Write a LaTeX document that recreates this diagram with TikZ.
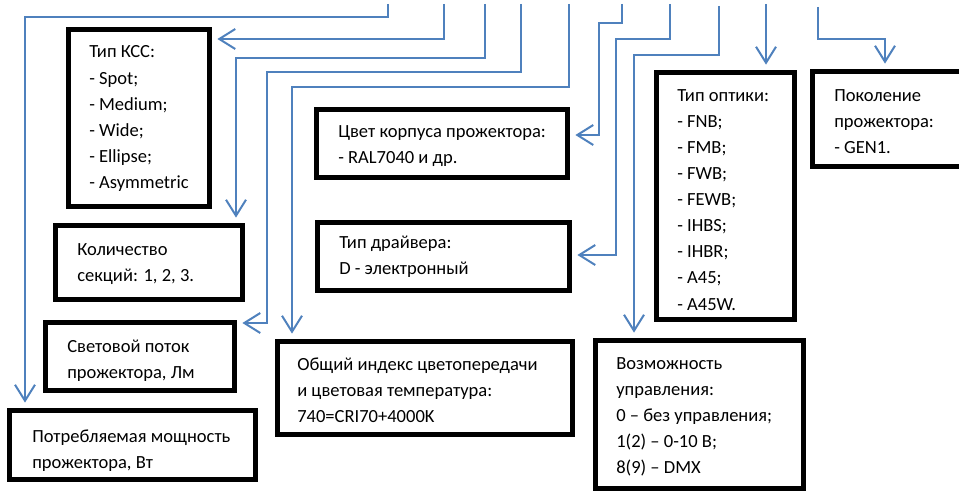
\documentclass[tikz,border=0pt]{standalone}
\usepackage{fontspec}
\setmainfont{Carlito}
\usetikzlibrary{arrows.meta,fit}
\definecolor{lineblue}{RGB}{79,129,189}
\newcommand\txtlines[1]{\parbox[t]{300pt}{\raggedright #1}}
\begin{document}
\begin{tikzpicture}[x=0.75pt,y=-0.75pt,
  box/.style={draw=black, line width=3.4pt, inner sep=0pt},
  txt/.style={anchor=base west, inner sep=0pt, font=\fontsize{13.9}{19.6}\selectfont},
  conn/.style={draw=lineblue, line width=1.5pt,
    -{Straight Barb[length=12pt,width=15pt,line width=1.5pt]}, shorten >=4.2pt}]
\clip (0,0) rectangle (959,492);
% boxes
\node[box, fit={(68.5,29.5) (209.5,206.5)}] (ksc) {};
\node[box, fit={(55.5,225.5) (242.5,299.5)}] (kol) {};
\node[box, fit={(45.5,322.5) (234.5,390.5)}] (svet) {};
\node[box, fit={(9.5,410.5) (255.5,479.5)}] (potr) {};
\node[box, fit={(316.5,109.5) (567.5,177.5)}] (cvet) {};
\node[box, fit={(317.5,222.5) (569.5,290.5)}] (drv) {};
\node[box, fit={(277.5,341.5) (572.5,434.5)}] (obsh) {};
\node[box, fit={(656.5,72.5) (794.5,319.5)}] (opt) {};
\node[box, fit={(812.5,71.5) (975,166.5)}] (pok) {};
\node[box, fit={(595.5,340.5) (803.5,488.5)}] (voz) {};
% texts
\node[txt] (ksct) at (89,58) {\txtlines{Тип КСС:\\- Spot;\\- Medium;\\- Wide;\\- Ellipse;\\- Asymmetric}};
\node[txt] (kolt) at (77,255) {\txtlines{Количество\\секций: 1, 2, 3.}};
\node[txt] (svett) at (67,352) {\txtlines{Световой поток\\прожектора, Лм}};
\node[txt] (potrt) at (32,442) {\txtlines{Потребляемая мощность\\прожектора, Вт}};
\node[txt] (cvett) at (338,137) {\txtlines{Цвет корпуса прожектора:\\- RAL7040 и др.}};
\node[txt] (drvt) at (339,248) {\txtlines{Тип драйвера:\\D - электронный}};
\node[txt] (obsht) at (297,370) {\txtlines{Общий индекс цветопередачи\\и цветовая температура:\\740=CRI70+4000K}};
\node[txt] (optt) at (677,101) {\txtlines{Тип оптики:\\- FNB;\\- FMB;\\- FWB;\\- FEWB;\\- IHBS;\\- IHBR;\\- A45;\\- A45W.}};
\node[txt] (pokt) at (834,101) {\txtlines{Поколение\\прожектора:\\- GEN1.}};
\node[txt] (vozt) at (616,369) {\txtlines{Возможность\\управления:\\0 – без управления;\\1(2) – 0-10 В;\\8(9) – DMX}};
% connector starts
\coordinate (sA) at (388,4);
\coordinate (sB) at (444,4);
\coordinate (sC) at (485,4);
\coordinate (sD) at (521,4);
\coordinate (sE) at (569,4);
\coordinate (sF) at (622,4);
\coordinate (sG) at (670,4);
\coordinate (sH) at (719,6);
\coordinate (sI) at (766,4);
\coordinate (sJ) at (818,7);
% connectors
\draw[conn] (sA) |- (25,17) -- (25,0 |- potr.north);
\draw[conn] (sB) |- (ksc.east |- 0,39);
\draw[conn] (sC) |- (236,58) -- (236,0 |- kol.north);
\draw[conn] (sD) |- (267,72) |- (svet.east |- 0,323);
\draw[conn] (sE) |- (292,87) -- (292,0 |- obsh.north);
\draw[conn] (sF) |- (599,23) |- (cvet.east |- 0,135);
\draw[conn] (sG) |- (616,39) |- (drv.east |- 0,255);
\draw[conn] (sH) |- (634,55) -- (634,0 |- voz.north);
\draw[conn] (sI) -- (766,0 |- opt.north);
\draw[conn] (sJ) |- (885,39) -- (885,0 |- pok.north);
\end{tikzpicture}
\end{document}
